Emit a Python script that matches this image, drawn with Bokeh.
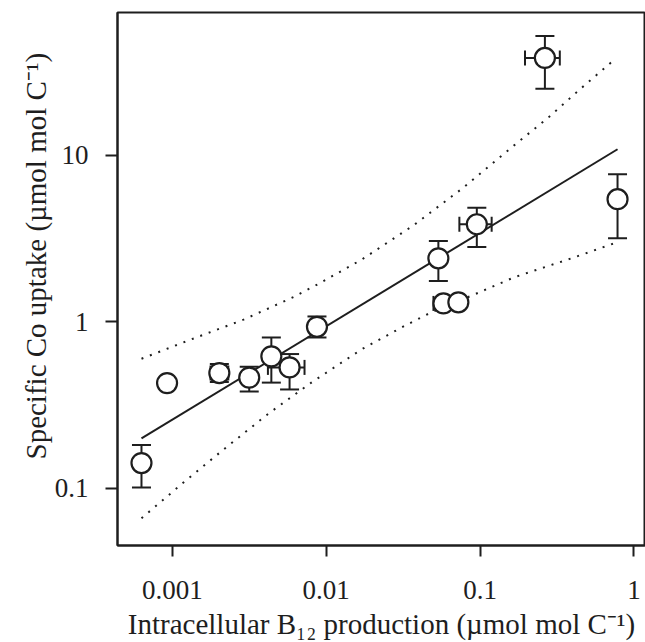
import math
from bokeh.plotting import figure
from bokeh.models import FixedTicker, CustomJSTickFormatter, Title
from bokeh.embed import file_html
from bokeh.resources import INLINE

# ---- data ----
b12 = [0.00063, 0.000924, 0.00202, 0.00316, 0.00440, 0.00578, 0.00871,
       0.0536, 0.0578, 0.0723, 0.0953, 0.264, 0.783]
co = [0.1415, 0.428, 0.492, 0.462, 0.620, 0.532, 0.933,
      2.41, 1.29, 1.31, 3.86, 38.6, 5.46]
co_lo = [0.101, None, 0.434, 0.381, 0.431, 0.392, 0.805,
         1.76, None, None, 2.82, 25.2, 3.18]
co_hi = [0.1815, None, 0.557, 0.537, 0.805, 0.640, 1.077,
         3.06, None, None, 4.85, 52.3, 7.71]
b12_lo = [None, None, 0.00177, None, None, 0.00418, None,
          None, 0.0498, None, 0.0734, 0.196, None]
b12_hi = [None, None, 0.00231, None, None, 0.00723, None,
          None, 0.0671, None, 0.119, 0.330, None]

fit_x = [0.00063, 0.783]
fit_y = [0.199, 10.9]

upper_x = [0.00063, 0.001374, 0.00290, 0.00614, 0.00901, 0.01706, 0.0366,
           0.078, 0.1664, 0.278, 0.457, 0.764]
upper_y = [0.60, 0.794, 1.03, 1.41, 1.70, 2.37, 3.78, 6.41, 11.5, 16.9, 25.5, 38.4]
lower_x = [0.00063, 0.00118, 0.00224, 0.00422, 0.0080, 0.01706, 0.0321,
           0.0473, 0.1, 0.166, 0.404, 0.764]
lower_y = [0.0659, 0.108, 0.176, 0.281, 0.431, 0.685, 0.942, 1.13, 1.51,
           1.85, 2.43, 2.99]

x_ticks = [0.001, 0.01, 0.1, 1]
y_ticks = [0.1, 1, 10]

x_title = "Intracellular B\u2081\u2082 production (\u00b5mol mol C\u207b\u00b9)"
y_title = "Specific Co uptake (\u00b5mol mol C\u207b\u00b9)"

FONT = "Liberation Serif"
INK = "#1e1e1e"

p = figure(width=645, height=642, x_axis_type="log", y_axis_type="log",
           x_range=(0.000440, 1.19), y_range=(0.0452, 72.4),
           output_backend="svg", toolbar_location=None,
           min_border_left=117, min_border_right=0, min_border_top=12,
           min_border_bottom=97, background_fill_color="white",
           border_fill_color="white")

p.xgrid.visible = False
p.ygrid.visible = False
p.outline_line_color = INK
p.outline_line_width = 2

for ax in (p.xaxis, p.yaxis):
    ax.axis_line_color = INK
    ax.axis_line_width = 2
    ax.major_tick_line_color = INK
    ax.major_tick_line_width = 2
    ax.major_tick_in = 0
    ax.minor_tick_line_color = None
    ax.major_label_text_font = FONT
    ax.major_label_text_font_size = "27px"
    ax.major_label_text_color = INK
    ax.formatter = CustomJSTickFormatter(code="return tick.toString();")

p.xaxis.ticker = FixedTicker(ticks=x_ticks, minor_ticks=[])
p.yaxis.ticker = FixedTicker(ticks=y_ticks, minor_ticks=[])
p.xaxis.major_tick_out = 11
p.yaxis.major_tick_out = 12
p.xaxis.major_label_standoff = 24
p.yaxis.major_label_standoff = 17

p.xaxis.axis_label = x_title
p.xaxis.axis_label_text_font = FONT
p.xaxis.axis_label_text_font_size = "29px"
p.xaxis.axis_label_text_font_style = "normal"
p.xaxis.axis_label_text_color = INK
p.xaxis.axis_label_standoff = 6

# y title starts above the frame bottom (it is not centred on the frame)
ytitle = Title(text=y_title, align="left", offset=86, standoff=0,
               text_font=FONT, text_font_size="29px",
               text_font_style="normal", text_color=INK)
p.add_layout(ytitle, "left")

# regression line and prediction band
p.line(fit_x, fit_y, line_color=INK, line_width=2)
p.line(upper_x, upper_y, line_color=INK, line_width=2, line_dash="2 7")
p.line(lower_x, lower_y, line_color=INK, line_width=2, line_dash="2 7")

# vertical error bars
vi = [i for i in range(len(b12)) if co_lo[i] is not None]
vx = [b12[i] for i in vi]
vlo = [co_lo[i] for i in vi]
vhi = [co_hi[i] for i in vi]
p.segment(vx, vlo, vx, vhi, line_color=INK, line_width=2)
p.scatter(vx + vx, vlo + vhi, marker="dash", size=19, line_color=INK,
          line_width=2)

# horizontal error bars
hi_ = [i for i in range(len(b12)) if b12_lo[i] is not None]
hy = [co[i] for i in hi_]
hlo = [b12_lo[i] for i in hi_]
hhi = [b12_hi[i] for i in hi_]
p.segment(hlo, hy, hhi, hy, line_color=INK, line_width=2)
p.scatter(hlo + hhi, hy + hy, marker="dash", size=15, angle=math.pi / 2,
          line_color=INK, line_width=2)

# points
p.scatter(b12, co, marker="circle", size=20, fill_color="white",
          line_color=INK, line_width=2.2)

open("out.html", "w").write(file_html(p, INLINE))
